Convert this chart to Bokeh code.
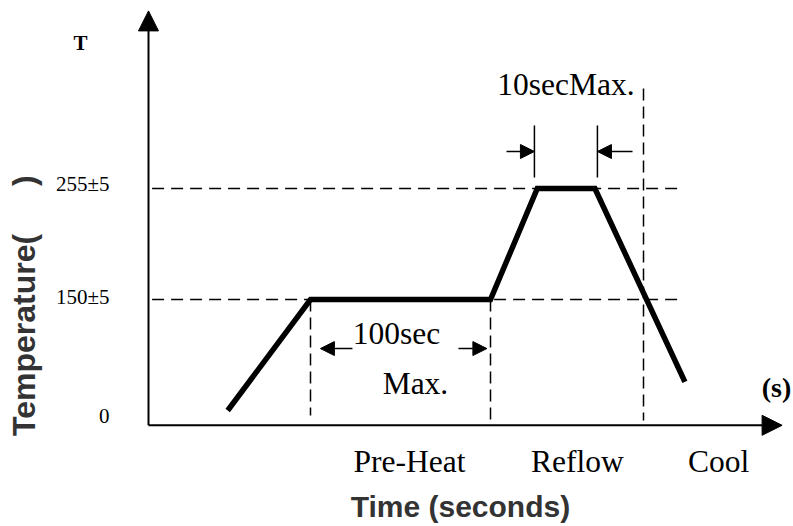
from bokeh.plotting import figure
from bokeh.models import Range1d, Arrow, NormalHead
from bokeh.core.properties import value
from bokeh.embed import file_html
from bokeh.resources import INLINE

# ---- schematic reflow profile (time in s, temperature in degC) ----
time_s = [44, 90, 190, 216, 248, 298]
temp_c = [45, 150, 150, 255, 255, 72]

levels = [150, 255]
level_labels = ["150±5", "255±5"]
zero_label = "0"

preheat_window = [90, 190]      # 100 sec max
peak_window = [214.4, 249.4]    # 10 sec max
cool_marker = 275

phases = ["Pre-Heat", "Reflow", "Cool"]
phase_x = [145, 238.3, 316.7]

axis_t0, axis_t1 = 0, 352
axis_T0, axis_T1 = 31, 423

SERIF = value("Liberation Serif")
SANS = value("Liberation Sans")

p = figure(width=793, height=526, output_backend="svg", toolbar_location=None,
           x_range=Range1d(-82.22, 358.33), y_range=Range1d(-64.73, 432.84),
           x_axis_location=None, y_axis_location=None, min_border=0)
p.grid.visible = False
p.outline_line_color = None
p.background_fill_color = "white"
p.border_fill_color = "white"

# axes with arrows
p.add_layout(Arrow(end=NormalHead(size=20, fill_color="black", line_color="black"),
                   x_start=axis_t0, y_start=axis_T0, x_end=axis_t0, y_end=axis_T1,
                   line_width=2, line_color="black"))
p.add_layout(Arrow(end=NormalHead(size=20, fill_color="black", line_color="black"),
                   x_start=axis_t0, y_start=axis_T0, x_end=axis_t1, y_end=axis_T0,
                   line_width=2, line_color="black"))

# horizontal dashed level lines
p.segment(x0=[2, 2], y0=levels, x1=[296, 296], y1=levels,
          line_dash="12 7", line_width=1.5, line_color="black")

# vertical dashed lines
p.segment(x0=[preheat_window[0], preheat_window[1], cool_marker],
          y0=[levels[0], levels[0], 349.6],
          x1=[preheat_window[0], preheat_window[1], cool_marker],
          y1=[40.3, 35.5, 35.5],
          line_dash="12 6", line_width=1.5, line_color="black")

# profile
p.line(time_s, temp_c, line_width=5.5, line_color="black", line_join="miter")

# 10 sec marker lines
p.segment(x0=peak_window, y0=[265.4, 265.4], x1=peak_window, y1=[314.6, 314.6],
          line_width=1.5, line_color="black")

def small_arrow(xs, ys, xe, ye):
    p.add_layout(Arrow(end=NormalHead(size=14, fill_color="black", line_color="black"),
                       x_start=xs, y_start=ys, x_end=xe, y_end=ye,
                       line_width=1.5, line_color="black"))

small_arrow(198.9, 290, peak_window[0], 290)
small_arrow(268.9, 290, peak_window[1], 290)
small_arrow(113.3, 103.6, 95.5, 103.6)
small_arrow(172.2, 103.6, 188.0, 103.6)

# tick labels
p.text(x=[-21.7, -21.7, -21.7], y=[151.9, 258.8, 39.8], text=level_labels + [zero_label],
       text_font=SERIF, text_font_size="21px", text_align="right",
       text_baseline="middle", text_color="black")

# annotations
SZ = "31.5px"
p.text(x=[231.9], y=[353.0], text=["10secMax."], text_font=SERIF,
       text_font_size=SZ, text_align="center", text_baseline="middle")
p.text(x=[137.8], y=[117.5], text=["100sec"], text_font=SERIF,
       text_font_size=SZ, text_align="center", text_baseline="middle")
p.text(x=[148.3], y=[71.0], text=["Max."], text_font=SERIF,
       text_font_size=SZ, text_align="center", text_baseline="middle")
p.text(x=phase_x, y=[-3.0] * 3, text=phases, text_font=SERIF,
       text_font_size=SZ, text_align="center", text_baseline="middle")

p.text(x=[-37.8], y=[393.1], text=["T"], text_font=SERIF, text_font_style="bold",
       text_font_size="21px", text_align="center", text_baseline="middle")
p.text(x=[348.9], y=[66.5], text=["(s)"], text_font=SERIF, text_font_style="bold",
       text_font_size="28px", text_align="center", text_baseline="middle")

# axis titles
p.text(x=[173.3], y=[-46.0], text=["Time (seconds)"], text_font=SANS,
       text_font_style="bold", text_font_size="30px", text_color="#333333",
       text_align="center", text_baseline="middle")
p.text(x=[-68.9, -68.9], y=[116.5, 262.5], text=["Temperature(", ")"], text_font=SANS,
       text_font_style="bold", text_font_size="32px", text_color="#333333",
       angle=1.5707963, text_align="center", text_baseline="middle")

open("out.html", "w").write(file_html(p, INLINE))
